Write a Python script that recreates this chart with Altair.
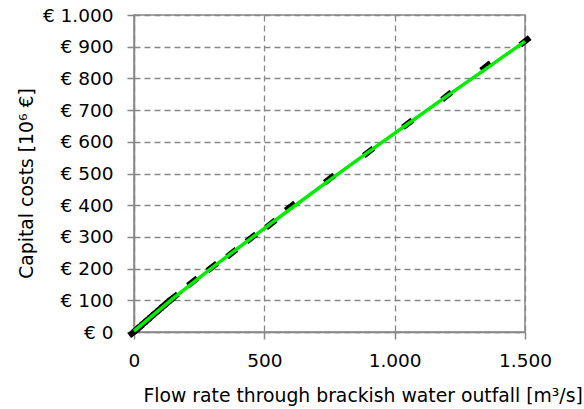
import altair as alt
import pandas as pd

# Capital costs of the brackish water outfall versus flow rate
flow_data = [0, 15, 30, 45, 60, 75, 90, 105, 120, 135, 150,
             225, 300, 375, 450, 525, 600, 750, 900, 1050, 1200, 1350, 1500]
cost_data = [0, 11, 22, 33, 44, 55, 65, 76, 87, 97, 108,
             158, 205, 249, 297, 341, 395, 483, 568, 657, 745, 837, 917]

# Fitted curve through the data
flow_fit = [0, 150, 300, 450, 600, 750, 900, 1050, 1200, 1350, 1500]
cost_fit = [3, 106, 203, 296, 388, 479, 568, 656, 744, 830, 917]

x_ticks = [0, 500, 1000, 1500]
y_ticks = [0, 100, 200, 300, 400, 500, 600, 700, 800, 900, 1000]

df_data = pd.DataFrame({"flow": flow_data, "cost": cost_data})
df_fit = pd.DataFrame({"flow": flow_fit, "cost": cost_fit})

FONT = "DejaVu Sans"
GREY = "#878787"

x_enc = alt.X(
    "flow:Q",
    scale=alt.Scale(domain=[0, 1500], nice=False, zero=True),
    axis=alt.Axis(
        values=x_ticks,
        title="Flow rate through brackish water outfall [m³/s]",
        labelExpr="replace(format(datum.value, ','), ',', '.')",
        titleX=9, titleY=69, titleAlign="left", titleBaseline="alphabetic",
        titleAnchor="start",
    ),
)
y_enc = alt.Y(
    "cost:Q",
    scale=alt.Scale(domain=[0, 1000], nice=False),
    axis=alt.Axis(
        values=y_ticks,
        tickCount=11,
        title="Capital costs [10⁶ €]",
        labelExpr="'€ ' + replace(format(datum.value, ','), ',', '.')",
        titleX=-102, titleY=168, titleAlign="center", titleBaseline="alphabetic",
        titleAngle=270,
    ),
)

# Short thick dash at every data point, oriented along the curve
points = alt.Chart(df_data).mark_point(
    shape="M-1,0L1,0",
    filled=False,
    stroke="black",
    strokeWidth=6,
    size=144,
    angle=322,
    opacity=1,
    strokeCap="butt",
).encode(x=x_enc, y=y_enc)

fit = alt.Chart(df_fit).mark_line(
    color="#00ec00", strokeWidth=3.5
).encode(x=x_enc, y=y_enc)

chart = (
    alt.layer(points, fit)
    .properties(
        width=391,
        height=317,
        autosize=alt.AutoSizeParams(type="none"),
        padding={"left": 134, "top": 15, "right": 59, "bottom": 77},
        background="white",
    )
    .configure_view(stroke=GREY, strokeWidth=1.5)
    .configure_axis(
        labelFont=FONT,
        labelFontSize=18.5,
        labelColor="black",
        labelOverlap=False,
        labelFlush=False,
        titleFont=FONT,
        titleFontSize=18.8,
        titleFontWeight="normal",
        titleColor="black",
        domainColor=GREY,
        domainWidth=1.5,
        tickColor=GREY,
        tickWidth=1.5,
        tickSize=7,
        gridColor=GREY,
        gridWidth=1.3,
        gridDash=[6, 4],
        gridOpacity=1,
    )
    .configure_axisX(labelPadding=12, labelAngle=0)
    .configure_axisY(labelPadding=14)
)

chart.save("out.html", embed_options={"renderer": "svg", "actions": False})
